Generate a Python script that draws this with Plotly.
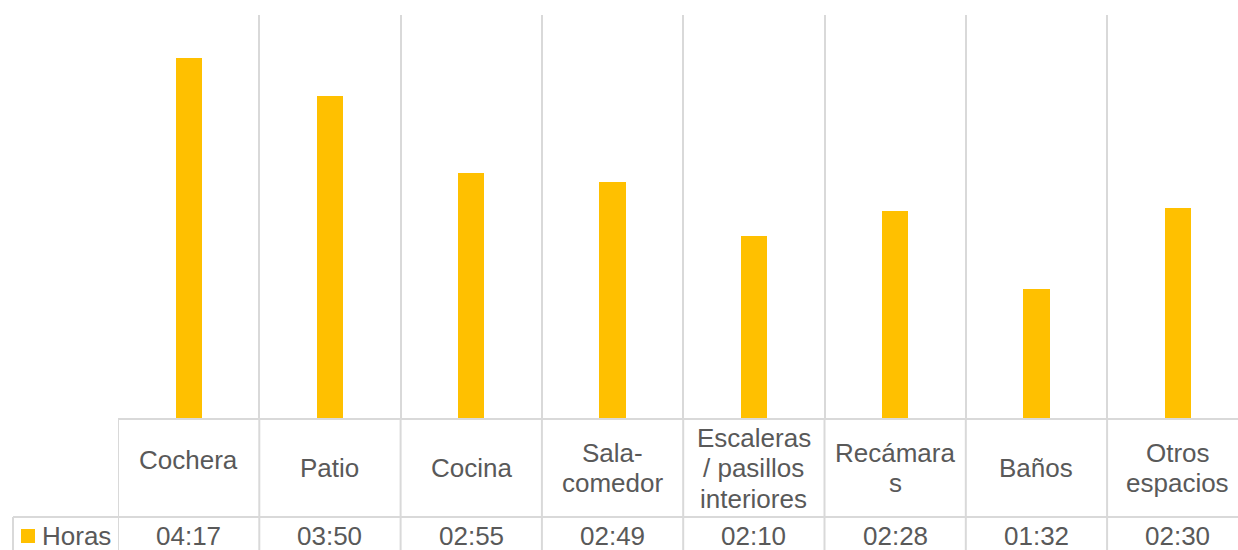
import plotly.graph_objects as go

# ---------------- data ----------------
categories = ["Cochera", "Patio", "Cocina", "Sala-comedor",
              "Escaleras / pasillos interiores", "Recámaras", "Baños", "Otros espacios"]
category_lines = [["Cochera"], ["Patio"], ["Cocina"], ["Sala-", "comedor"],
                  ["Escaleras", "/ pasillos", "interiores"], ["Recámara", "s"],
                  ["Baños"], ["Otros", "espacios"]]
horas_labels = ["04:17", "03:50", "02:55", "02:49", "02:10", "02:28", "01:32", "02:30"]
series_name = "Horas"

minutes = [int(h.split(":")[0]) * 60 + int(h.split(":")[1]) for h in horas_labels]

# ---------------- layout helpers ----------------
W, H = 1238, 550
PL, PT, PB = 118, 15, 418          # plot area left / top / bottom in pixels
PW = W - PL
PH = PB - PT
CAT_W = 141.3                       # pixel width of one category
x_end = -0.5 + PW / CAT_W
YMAX = 288                          # 0.2 day = 4:48

def px_x(px):
    return (px - PL) / PW

def px_y(py):
    return (PB - py) / PH

GRID = "#d9d9d9"
TXT = "#595959"
FONT = "Liberation Sans, Arial, sans-serif"
FS = 26
BAR = "#FFC000"

xs = list(range(len(categories)))

fig = go.Figure()
fig.add_trace(go.Bar(
    x=xs, y=minutes, width=0.185, marker=dict(color=BAR, line=dict(width=0)),
    name=series_name, showlegend=False, hoverinfo="skip",
))

boundaries = [i - 0.5 for i in range(len(categories) + 1)]

shapes = []
# table top / axis line
shapes.append(dict(type="line", xref="paper", yref="paper", x0=0, x1=1.02,
                   y0=px_y(419), y1=px_y(419), line=dict(color=GRID, width=2)))
# row separator
shapes.append(dict(type="line", xref="paper", yref="paper", x0=px_x(13), x1=1.02,
                   y0=px_y(517), y1=px_y(517), line=dict(color=GRID, width=2)))
# legend cell left border
shapes.append(dict(type="line", xref="paper", yref="paper", x0=px_x(13), x1=px_x(13),
                   y0=px_y(517), y1=px_y(552), line=dict(color=GRID, width=2)))
# vertical table lines
for b in boundaries:
    shapes.append(dict(type="line", xref="x", yref="paper", x0=b, x1=b,
                       y0=px_y(419), y1=px_y(552), line=dict(color=GRID, width=2)))
# legend swatch
shapes.append(dict(type="rect", xref="paper", yref="paper",
                   x0=px_x(21), x1=px_x(35), y0=px_y(543), y1=px_y(529),
                   fillcolor=BAR, line=dict(width=0)))

annotations = []
LINE_H = 30.5
CAT_CENTER = 468
label_nudge = [-8, 0, 0, 0, 0, 0, 0, 0]   # pixel offsets seen in the reference
for i, lines in enumerate(category_lines):
    n = len(lines)
    for j, ln in enumerate(lines):
        cy = CAT_CENTER + label_nudge[i] + (j - (n - 1) / 2) * LINE_H
        annotations.append(dict(x=i, y=px_y(cy), xref="x", yref="paper", text=ln,
                                showarrow=False, xanchor="center", yanchor="middle",
                                font=dict(family=FONT, size=FS, color=TXT)))
for i, lab in enumerate(horas_labels):
    annotations.append(dict(x=i, y=px_y(536), xref="x", yref="paper", text=lab,
                            showarrow=False, xanchor="center", yanchor="middle",
                            font=dict(family=FONT, size=FS, color=TXT)))
annotations.append(dict(x=px_x(40), y=px_y(536), xref="paper", yref="paper",
                        text=series_name, showarrow=False, xanchor="left",
                        yanchor="middle", font=dict(family=FONT, size=FS, color=TXT)))

fig.update_layout(
    width=W, height=H,
    margin=dict(l=PL, r=0, t=PT, b=H - PB, pad=0),
    paper_bgcolor="white", plot_bgcolor="white",
    xaxis=dict(range=[-0.5, x_end], tickvals=boundaries, showticklabels=False,
               ticks="", showgrid=True, gridcolor=GRID, gridwidth=2,
               zeroline=False, showline=False, fixedrange=True),
    yaxis=dict(range=[0, YMAX], visible=False, showgrid=False, zeroline=False,
               fixedrange=True),
    shapes=shapes, annotations=annotations, showlegend=False, bargap=0,
)

fig.write_html("out.html", config={"displayModeBar": False})
